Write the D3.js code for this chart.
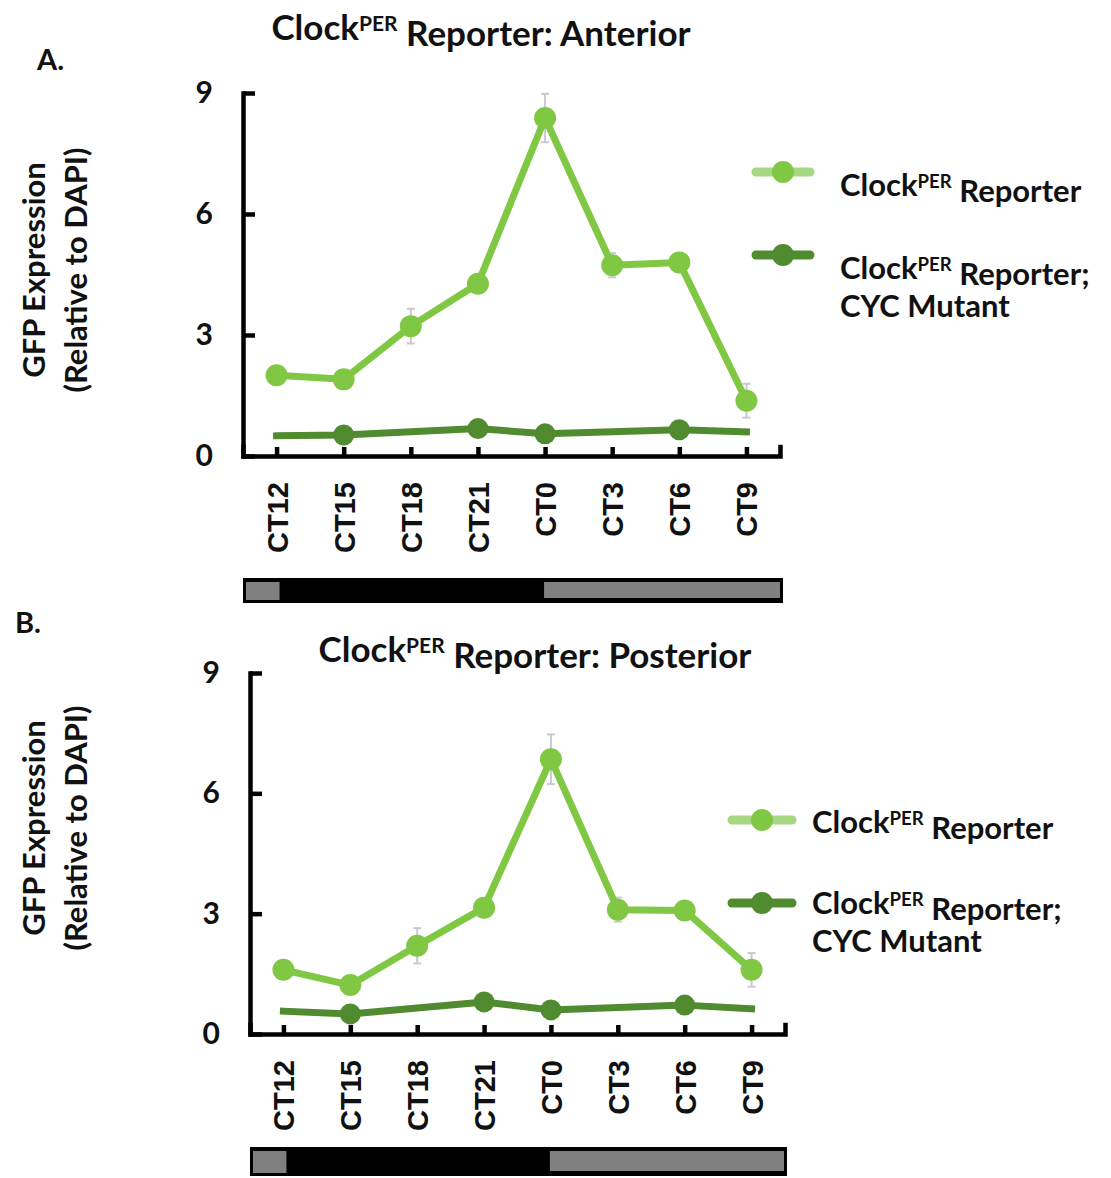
<!DOCTYPE html>
<html><head><meta charset="utf-8">
<script src="https://cdn.jsdelivr.net/npm/d3@7"></script>
<style>
html,body{margin:0;padding:0;background:#fff;}
svg{display:block;}
</style></head>
<body>
<svg id="chart" width="1111" height="1178"></svg>
<script>
// ---------- data ----------
const categories = ["CT12","CT15","CT18","CT21","CT0","CT3","CT6","CT9"];
const yTickValues = [0, 3, 6, 9];
const anteriorReporter    = [2.0, 1.9, 3.22, 4.27, 8.38, 4.73, 4.8, 1.37];
const anteriorReporterErr = [0.1, 0.12, 0.43, 0.15, 0.6, 0.3, 0.15, 0.42];
const anteriorMutant      = [0.5, 0.52, 0.6, 0.68, 0.55, 0.6, 0.65, 0.6];
const posteriorReporter    = [1.6, 1.22, 2.2, 3.15, 6.85, 3.1, 3.08, 1.6];
const posteriorReporterErr = [0.1, 0.12, 0.44, 0.15, 0.62, 0.3, 0.15, 0.42];
const posteriorMutant      = [0.57, 0.5, 0.65, 0.8, 0.6, 0.66, 0.72, 0.63];
const mutantMarkerCategories = ["CT15","CT21","CT0","CT6"];
const nightStart = "CT12", nightEnd = "CT0";
const seriesNames = ["Reporter", "Reporter; CYC Mutant"];

const LIGHT = "#80c844", LIGHT_LEG = "#a6d884", DARK = "#518b30", ERR = "#c9c9d3";
const svg = d3.select("#chart");

function superText(sel, before, sup, after) {
  sel.append("tspan").text(before);
  sel.append("tspan").text(sup).attr("font-size", "60%").attr("dy", "-0.45em");
  sel.append("tspan").text(after).attr("dy", "0.45em");
}

function panel(cfg) {
  const g = svg.append("g");
  const x = d3.scalePoint().domain(categories).range([cfg.x0, cfg.x1]).padding(0.5);
  const y = d3.scaleLinear().domain([0, 9]).range([cfg.yb, cfg.yt]);

  // title
  const t = g.append("text").attr("x", cfg.titleX).attr("y", cfg.titleY)
    .attr("text-anchor", "middle").attr("font-family", "Lato").attr("font-weight", 700)
    .attr("font-size", 35).attr("fill", "#111");
  superText(t, "Clock", "PER", " Reporter: " + cfg.region);

  // panel letter
  g.append("text").attr("x", cfg.letterX).attr("y", cfg.letterY)
    .attr("font-family", "Lato").attr("font-weight", 700).attr("font-size", 29)
    .attr("fill", "#111").text(cfg.letter);

  // y title
  [["GFP Expression", 33], ["(Relative to DAPI)", 75]].forEach(([s, xx]) => {
    g.append("text").attr("transform", `translate(${xx},${cfg.yTitleY}) rotate(-90)`)
      .attr("text-anchor", "middle").attr("dominant-baseline", "central")
      .attr("font-family", "Lato").attr("font-weight", 700).attr("font-size", 31)
      .attr("fill", "#111").text(s);
  });

  // axes
  const ya = g.append("g").attr("transform", `translate(${cfg.x0},0)`)
    .call(d3.axisLeft(y).tickValues(yTickValues).tickSizeInner(-12).tickSizeOuter(0).tickPadding(30));
  ya.selectAll("text").attr("font-family", "Lato").attr("font-weight", 700)
    .attr("font-size", 30).attr("fill", "#111");
  const xa = g.append("g").attr("transform", `translate(0,${cfg.yb})`)
    .call(d3.axisBottom(x).tickSizeInner(-9).tickSizeOuter(-9));
  xa.selectAll("text").attr("transform", "rotate(-90)").attr("x", -26).attr("y", 0)
    .attr("dy", "0.36em").attr("text-anchor", "end")
    .attr("font-family", "Liberation Sans").attr("font-weight", 700)
    .attr("font-size", 29).attr("fill", "#111");
  [ya, xa].forEach(a => {
    a.select(".domain").attr("stroke", "#000").attr("stroke-width", 4.5).attr("stroke-linecap", "square");
    a.selectAll(".tick line").attr("stroke", "#000").attr("stroke-width", 4.5);
  });

  // error bars
  const eb = g.append("g").attr("stroke", ERR).attr("stroke-width", 2);
  categories.forEach((c, i) => {
    const v = cfg.rep[i], e = cfg.err[i];
    eb.append("line").attr("x1", x(c)).attr("x2", x(c)).attr("y1", y(v + e)).attr("y2", y(v - e));
    [v + e, v - e].forEach(w => eb.append("line").attr("x1", x(c) - 4).attr("x2", x(c) + 4)
      .attr("y1", y(w)).attr("y2", y(w)));
  });

  const line = d3.line().x((d, i) => x(categories[i])).y(d => y(d));
  // mutant
  g.append("path").datum(cfg.mut).attr("d", line).attr("fill", "none")
    .attr("stroke", DARK).attr("stroke-width", 7).attr("stroke-linecap", "square").attr("stroke-linejoin", "round");
  g.selectAll(null).data(categories.map((c, i) => [c, cfg.mut[i]]).filter(d => mutantMarkerCategories.includes(d[0])))
    .join("circle").attr("cx", d => x(d[0])).attr("cy", d => y(d[1])).attr("r", 10.5).attr("fill", DARK);
  // reporter
  g.append("path").datum(cfg.rep).attr("d", line).attr("fill", "none")
    .attr("stroke", LIGHT).attr("stroke-width", 7).attr("stroke-linejoin", "round");
  g.selectAll(null).data(cfg.rep).join("circle")
    .attr("cx", (d, i) => x(categories[i])).attr("cy", d => y(d)).attr("r", 11).attr("fill", LIGHT);

  // day/night bar
  const bx0 = cfg.x0, bx1 = cfg.barX1, by = cfg.barY, bh = cfg.barH;
  g.append("rect").attr("x", bx0).attr("y", by).attr("width", bx1 - bx0).attr("height", bh).attr("fill", "#000");
  g.append("rect").attr("x", bx0 + 3).attr("y", by + 4).attr("width", x(nightStart) + 3 - bx0 - 3)
    .attr("height", bh - 7).attr("fill", "#808080");
  g.append("rect").attr("x", x(nightEnd) - 1).attr("y", by + 4).attr("width", bx1 - 3 - x(nightEnd) + 1)
    .attr("height", bh - 9).attr("fill", "#808080");

  // legend
  const L = cfg.leg;
  const items = [
    {yy: L.y1, col: LIGHT, lc: LIGHT_LEG, lines: [["Clock", "PER", " " + seriesNames[0]]], ty: L.t1},
    {yy: L.y2, col: DARK, lc: DARK, lines: [["Clock", "PER", " " + "Reporter;"], ["CYC Mutant"]], ty: L.t2}
  ];
  items.forEach(it => {
    g.append("line").attr("x1", L.lx0).attr("x2", L.lx1).attr("y1", it.yy).attr("y2", it.yy)
      .attr("stroke", it.lc).attr("stroke-width", 9).attr("stroke-linecap", "round");
    g.append("circle").attr("cx", (L.lx0 + L.lx1) / 2).attr("cy", it.yy).attr("r", 11).attr("fill", it.col);
    it.lines.forEach((ln, k) => {
      const tt = g.append("text").attr("x", L.tx).attr("y", it.ty + k * 38)
        .attr("font-family", "Lato").attr("font-weight", 700).attr("font-size", 31).attr("fill", "#111");
      if (ln.length === 3) superText(tt, ln[0], ln[1], ln[2]); else tt.text(ln[0]);
    });
  });
}

panel({region: "Anterior", letter: "A.", letterX: 37, letterY: 70, titleX: 481, titleY: 40,
  x0: 243, x1: 780, yb: 456, yt: 93, barX1: 783, barY: 578, barH: 25, yTitleY: 270,
  rep: anteriorReporter, err: anteriorReporterErr, mut: anteriorMutant,
  leg: {lx0: 756, lx1: 810, y1: 172, y2: 255, tx: 840, t1: 196, t2: 279}});

panel({region: "Posterior", letter: "B.", letterX: 15, letterY: 633, titleX: 535, titleY: 662,
  x0: 250, x1: 785, yb: 1034, yt: 673, barX1: 787, barY: 1147, barH: 29, yTitleY: 828,
  rep: posteriorReporter, err: posteriorReporterErr, mut: posteriorMutant,
  leg: {lx0: 732, lx1: 792, y1: 820, y2: 903, tx: 812, t1: 833, t2: 914}});
</script>
</body></html>
